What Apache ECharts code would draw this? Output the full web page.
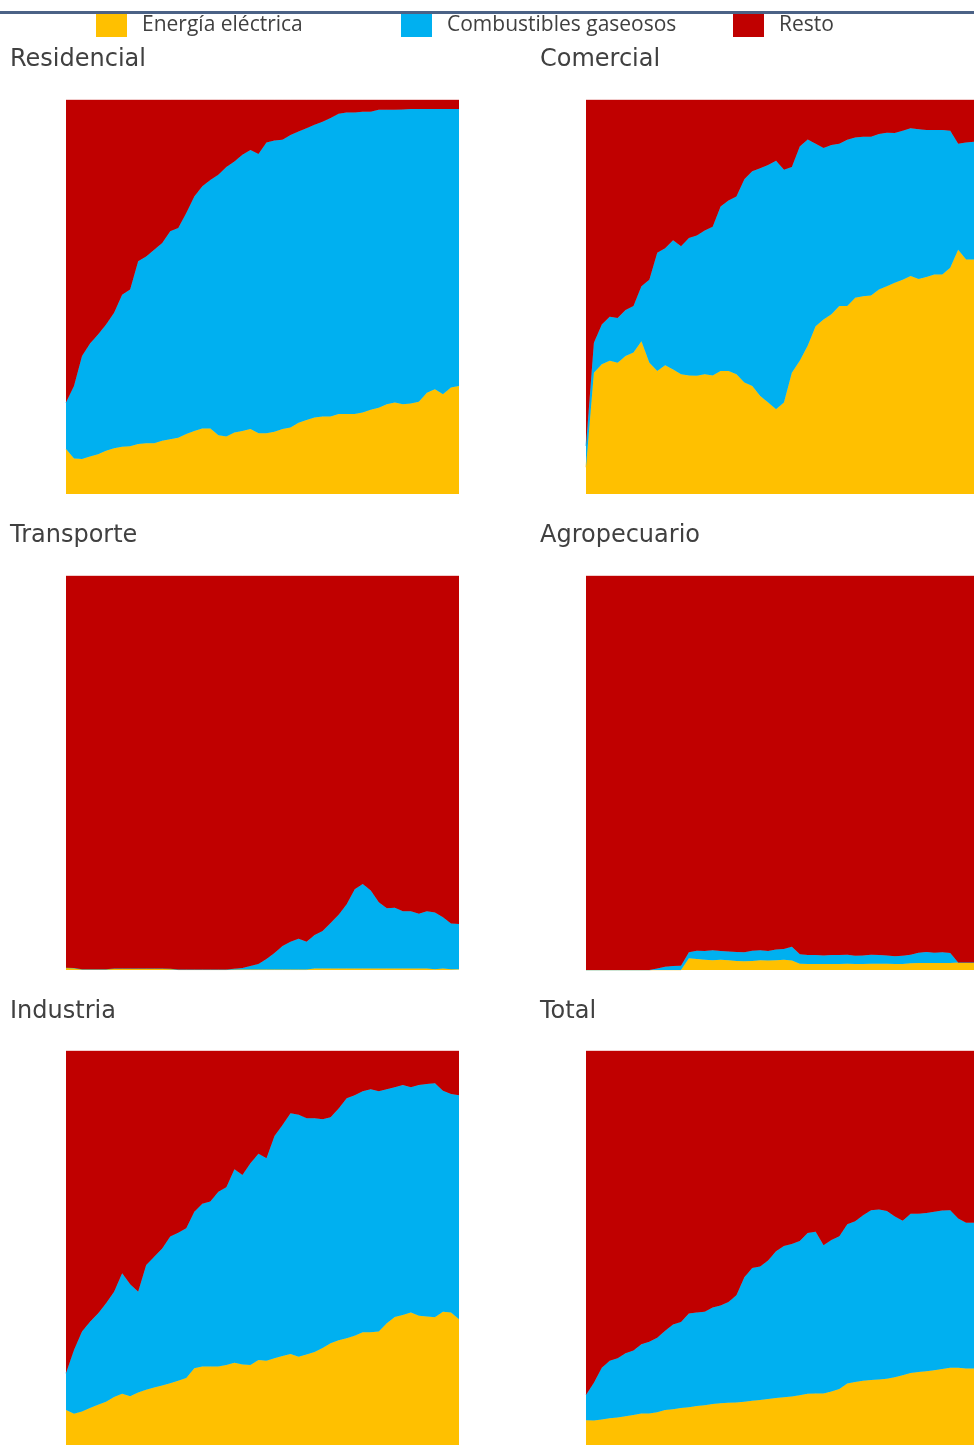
<!DOCTYPE html>
<html>
<head>
<meta charset="utf-8">
<title>Participación por fuente y sector</title>
<script src="https://cdn.jsdelivr.net/npm/echarts@6/dist/echarts.min.js"></script>
<style>
  html, body { margin: 0; padding: 0; background: #ffffff; }
  #chart { width: 974px; height: 1446px; }
</style>
</head>
<body>
<div id="chart"></div>
<script>
// Years on the shared horizontal axis (axis labels are hidden)
const years = [];
for (let y = 1970; y <= 2019; y++) years.push(String(y));

const seriesNames = ['Energía eléctrica', 'Combustibles gaseosos', 'Resto'];
const seriesColors = ['#FFC000', '#00B0F0', '#C00000'];
const sectorNames = ['Residencial', 'Comercial', 'Transporte', 'Agropecuario', 'Industria', 'Total'];

// Shares (%) of each source in every sector
const residencialElec = [11.4,9.0,8.9,9.5,10.1,11.0,11.6,12.0,12.1,12.7,12.9,12.9,13.5,13.9,14.3,15.2,16.0,16.6,16.6,14.9,14.6,15.6,16.0,16.5,15.4,15.4,15.8,16.5,16.9,18.1,18.8,19.4,19.7,19.7,20.3,20.3,20.3,20.7,21.4,21.9,22.8,23.2,22.8,23.0,23.4,25.7,26.6,25.3,27.0,27.4];
const residencialGas = [11.8,18.4,26.1,28.7,30.4,32.0,34.4,38.6,39.8,46.4,47.4,49.1,50.2,52.8,53.2,56.1,59.5,61.5,63.1,66.1,68.4,68.8,70.1,70.8,70.9,73.8,73.9,73.4,74.2,73.9,74.0,74.3,74.8,75.7,76.2,76.5,76.5,76.3,75.6,75.6,74.7,74.3,74.8,74.7,74.3,72.0,71.1,72.4,70.7,70.3];
const residencialResto = [76.8,72.6,65.0,61.8,59.5,57.0,54.0,49.4,48.1,40.9,39.7,38.0,36.3,33.3,32.5,28.7,24.5,21.9,20.3,19.0,17.0,15.6,13.9,12.7,13.7,10.8,10.3,10.1,8.9,8.0,7.2,6.3,5.5,4.6,3.5,3.2,3.2,3.0,3.0,2.5,2.5,2.5,2.4,2.3,2.3,2.3,2.3,2.3,2.3,2.3];

const comercialElec = [6.8,30.8,32.9,33.8,33.3,35.0,35.9,38.8,33.3,31.2,32.7,31.6,30.4,30.1,30.0,30.4,30.1,31.2,31.2,30.4,28.3,27.4,24.9,23.2,21.5,23.2,30.8,33.8,37.6,42.6,44.3,45.6,47.7,47.7,49.8,50.2,50.4,51.9,52.7,53.6,54.4,55.3,54.6,55.1,55.7,55.7,57.4,62.0,59.5,59.5];
const comercialGas = [5.4,7.6,10.1,11.2,11.4,11.7,11.8,13.9,21.1,30.0,29.7,32.8,32.5,34.9,35.6,36.5,37.7,41.8,43.3,45.1,51.6,54.5,57.8,60.3,63.1,59.1,52.2,54.4,52.4,46.3,43.5,43.0,41.2,42.2,40.7,40.5,40.3,39.5,39.0,38.0,37.8,37.5,38.0,37.3,36.7,36.7,34.8,26.9,29.7,29.9];
const comercialResto = [87.8,61.6,57.0,55.0,55.3,53.3,52.3,47.3,45.6,38.8,37.6,35.6,37.1,35.0,34.4,33.1,32.2,27.0,25.5,24.5,20.1,18.1,17.3,16.5,15.4,17.7,17.0,11.8,10.0,11.1,12.2,11.4,11.1,10.1,9.5,9.3,9.3,8.6,8.3,8.4,7.8,7.2,7.4,7.6,7.6,7.6,7.8,11.1,10.8,10.6];

const transporteElec = [0.6,0.5,0.2,0.2,0.2,0.2,0.4,0.4,0.4,0.4,0.4,0.4,0.4,0.3,0.1,0.1,0.1,0.1,0.1,0.1,0.1,0.1,0.1,0.1,0.1,0.1,0.1,0.1,0.1,0.1,0.1,0.4,0.4,0.4,0.4,0.4,0.4,0.4,0.4,0.4,0.4,0.4,0.4,0.4,0.4,0.4,0.2,0.4,0.2,0.2];
const transporteGas = [0,0,0,0,0,0,0,0,0,0,0,0,0,0,0,0,0,0,0,0,0,0.2,0.4,0.9,1.4,2.7,4.2,6.0,7.1,7.8,7.1,8.5,9.5,11.5,13.6,16.3,20.1,21.4,19.8,16.8,15.3,15.4,14.5,14.5,13.9,14.5,14.4,13.0,11.6,11.5];
const transporteResto = [99.4,99.5,99.8,99.8,99.8,99.8,99.6,99.6,99.6,99.6,99.6,99.6,99.6,99.7,99.9,99.9,99.9,99.9,99.9,99.9,99.9,99.7,99.5,99.0,98.5,97.2,95.7,93.9,92.8,92.1,92.8,91.1,90.1,88.1,86.0,83.3,79.5,78.2,79.8,82.8,84.3,84.2,85.1,85.1,85.7,85.1,85.4,86.6,88.2,88.3];

const agropecuarioElec = [0,0,0,0,0,0,0,0,0,0,0,0,0,3.0,2.8,2.6,2.5,2.6,2.5,2.3,2.2,2.3,2.5,2.4,2.5,2.6,2.4,1.6,1.5,1.5,1.5,1.5,1.5,1.6,1.5,1.5,1.6,1.6,1.6,1.5,1.5,1.7,1.8,1.8,1.8,1.8,1.8,1.9,1.9,1.9];
const agropecuarioGas = [0,0,0,0,0,0,0,0,0,0.4,0.8,1.0,1.1,1.5,2.1,2.2,2.5,2.2,2.2,2.3,2.3,2.6,2.5,2.4,2.7,2.7,3.5,2.4,2.3,2.3,2.2,2.3,2.3,2.3,2.1,2.2,2.3,2.2,2.1,2.0,2.1,2.2,2.6,2.8,2.6,2.7,2.5,0,0,0];
const agropecuarioResto = [100,100,100,100,100,100,100,100,100,99.6,99.2,99.0,98.9,95.5,95.1,95.2,95.0,95.2,95.3,95.4,95.5,95.1,95.0,95.2,94.8,94.7,94.1,96.0,96.2,96.2,96.3,96.2,96.2,96.1,96.4,96.3,96.1,96.2,96.3,96.5,96.4,96.1,95.6,95.4,95.6,95.5,95.7,98.1,98.1,98.1];

const industriaElec = [8.9,7.9,8.5,9.4,10.2,11.0,12.2,13.0,12.4,13.3,14.0,14.6,15.1,15.7,16.3,17.0,19.5,19.9,19.9,19.9,20.3,20.9,20.4,20.3,21.6,21.4,22.0,22.6,23.1,22.4,23.0,23.6,24.6,25.8,26.6,27.1,27.7,28.6,28.6,28.8,30.9,32.5,33.0,33.6,32.8,32.6,32.4,33.8,33.6,31.9];
const industriaGas = [9.3,16.2,20.3,21.9,23.2,25.0,26.7,30.6,28.4,25.6,31.7,33.2,34.8,37.2,37.6,38.0,39.7,41.3,41.9,44.4,45.1,49.1,48.1,51.2,52.3,51.4,56.4,58.6,61.1,61.4,59.9,59.3,58.1,57.4,58.8,60.9,61.1,61.2,61.7,61.0,59.4,58.3,58.4,57.2,58.6,59.0,59.4,56.1,55.5,56.9];
const industriaResto = [81.8,75.9,71.2,68.7,66.6,64.0,61.1,56.4,59.2,61.1,54.3,52.2,50.1,47.1,46.1,45.0,40.8,38.8,38.2,35.7,34.6,30.0,31.5,28.5,26.1,27.2,21.6,18.8,15.8,16.2,17.1,17.1,17.3,16.8,14.6,12.0,11.2,10.2,9.7,10.2,9.7,9.2,8.6,9.2,8.6,8.4,8.2,10.1,10.9,11.2];

const totalElec = [6.3,6.2,6.5,6.8,7.0,7.3,7.6,8.0,8.0,8.3,8.9,9.1,9.4,9.6,9.9,10.1,10.4,10.6,10.7,10.8,11.0,11.2,11.4,11.7,11.9,12.1,12.3,12.6,13.0,13.1,13.1,13.6,14.2,15.6,16.0,16.3,16.5,16.6,16.8,17.2,17.7,18.3,18.5,18.7,19.0,19.3,19.6,19.6,19.4,19.4];
const totalGas = [6.4,9.6,13.1,14.6,15.0,16.0,16.4,17.6,18.2,18.9,20.1,21.5,21.8,23.8,23.7,23.7,24.5,24.8,25.6,27.2,31.6,33.7,33.9,35.1,37.3,38.4,38.7,39.2,40.8,41.0,37.6,38.4,38.8,40.4,40.8,42.0,43.1,43.2,42.6,40.8,39.2,40.4,40.2,40.2,40.2,40.2,40.0,37.9,37.0,37.0];
const totalResto = [87.3,84.2,80.4,78.6,78.0,76.7,76.0,74.4,73.8,72.8,71.0,69.4,68.8,66.6,66.4,66.2,65.1,64.6,63.7,62.0,57.4,55.1,54.7,53.2,50.8,49.5,49.0,48.2,46.2,45.9,49.3,48.0,47.0,44.0,43.2,41.7,40.4,40.2,40.6,42.0,43.1,41.3,41.3,41.1,40.8,40.5,40.4,42.5,43.6,43.6];

const sectorData = [
  [residencialElec, residencialGas, residencialResto],
  [comercialElec, comercialGas, comercialResto],
  [transporteElec, transporteGas, transporteResto],
  [agropecuarioElec, agropecuarioGas, agropecuarioResto],
  [industriaElec, industriaGas, industriaResto],
  [totalElec, totalGas, totalResto]
];

// Panel layout: two columns, three rows
const colLeft = [66, 586];
const rowTop = [100, 576, 1051];
const panelW = 393;
const panelH = 394;
const titleY = [60, 536, 1012];
const titleX = [10, 540];

const grids = [], xAxes = [], yAxes = [], series = [], graphics = [];

sectorNames.forEach((name, p) => {
  const col = p % 2, row = Math.floor(p / 2);
  grids.push({ left: colLeft[col], top: rowTop[row], width: panelW, height: panelH, containLabel: false });
  xAxes.push({ type: 'category', gridIndex: p, data: years, boundaryGap: false, show: false });
  yAxes.push({ type: 'value', gridIndex: p, min: 0, max: 100, show: false });
  sectorData[p].forEach((values, s) => {
    series.push({
      name: seriesNames[s],
      type: 'line',
      xAxisIndex: p,
      yAxisIndex: p,
      stack: 'sector' + p,
      data: values,
      showSymbol: false,
      smooth: false,
      silent: true,
      itemStyle: { color: seriesColors[s] },
      lineStyle: { width: 0.8, color: seriesColors[s] },
      areaStyle: { color: seriesColors[s], opacity: 1 },
      z: 2 + s
    });
  });
  graphics.push({
    type: 'text',
    x: titleX[col],
    y: titleY[row],
    style: {
      text: name,
      fill: '#404040',
      font: '24px "DejaVu Sans", "Open Sans", sans-serif',
      verticalAlign: 'middle'
    }
  });
});

// Rule across the top of the figure
graphics.push({
  type: 'rect',
  shape: { x: 0, y: 11, width: 974, height: 3 },
  style: { fill: '#4B6286' }
});

const legendLeft = [96, 401, 733];
const legends = seriesNames.map((n, i) => ({
  data: [n],
  left: legendLeft[i],
  top: 14,
  padding: 0,
  icon: 'rect',
  itemWidth: 31,
  itemHeight: 23,
  selectedMode: false,
  textStyle: {
    color: '#404040',
    fontSize: 21,
    fontFamily: '"Open Sans", sans-serif',
    padding: [3, 0, 0, 10]
  }
}));

const chart = echarts.init(document.getElementById('chart'), null, { renderer: 'canvas' });
chart.setOption({
  animation: false,
  backgroundColor: '#ffffff',
  legend: legends,
  grid: grids,
  xAxis: xAxes,
  yAxis: yAxes,
  series: series,
  graphic: graphics
});
</script>
</body>
</html>
